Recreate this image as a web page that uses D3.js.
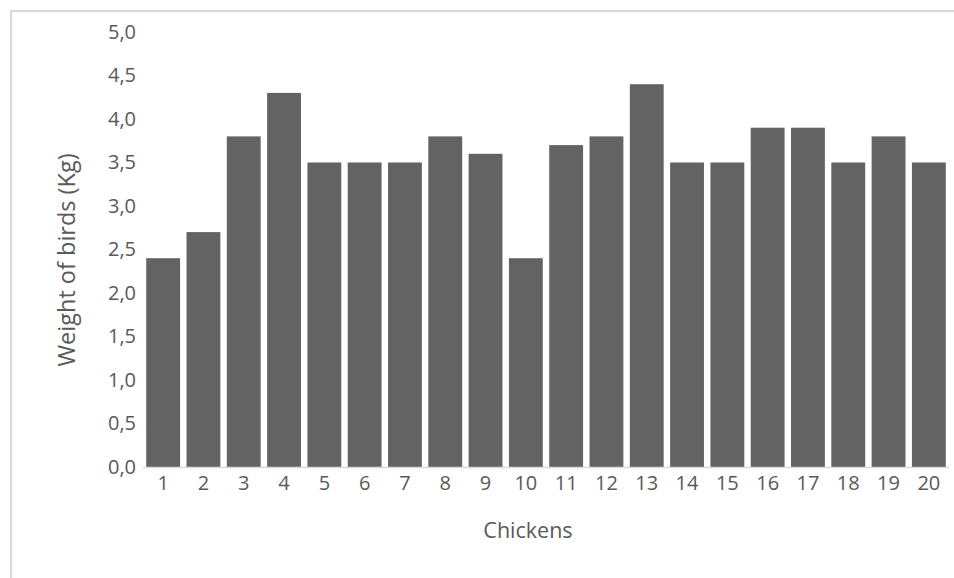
<!DOCTYPE html>
<html>
<head>
<meta charset="utf-8">
<script src="https://cdn.jsdelivr.net/npm/d3@7"></script>
<style>
  html, body { margin: 0; padding: 0; background: #fff; }
  svg { display: block; }
  text { font-family: "Open Sans", "Liberation Sans", sans-serif; fill: #595959; }
</style>
</head>
<body>
<svg id="chart" width="954" height="578"></svg>
<script>
// Bird weights per chicken
const chickens = ["1","2","3","4","5","6","7","8","9","10","11","12","13","14","15","16","17","18","19","20"];
const weights = [2.4, 2.7, 3.8, 4.3, 3.5, 3.5, 3.5, 3.8, 3.6, 2.4, 3.7, 3.8, 4.4, 3.5, 3.5, 3.9, 3.9, 3.5, 3.8, 3.5];
const yTicks = [0, 0.5, 1, 1.5, 2, 2.5, 3, 3.5, 4, 4.5, 5];

const svg = d3.select("#chart");

// chart frame
svg.append("rect")
  .attr("x", 11).attr("y", 11)
  .attr("width", 960).attr("height", 600)
  .attr("fill", "none")
  .attr("stroke", "#d9d9d9")
  .attr("stroke-width", 2);

const plot = { left: 143, right: 949, top: 32, bottom: 467 };

const x = d3.scaleBand()
  .domain(chickens)
  .range([plot.left, plot.right])
  .paddingInner(0.16)
  .paddingOuter(0.08);

const y = d3.scaleLinear()
  .domain([0, 5])
  .range([plot.bottom, plot.top]);

// bars
svg.append("g")
  .selectAll("rect")
  .data(weights)
  .join("rect")
  .attr("x", (d, i) => x(chickens[i]))
  .attr("y", d => y(d))
  .attr("width", x.bandwidth())
  .attr("height", d => y(0) - y(d))
  .attr("fill", "#636363");

// baseline
svg.append("line")
  .attr("x1", plot.left).attr("x2", plot.right)
  .attr("y1", y(0) + 0.5).attr("y2", y(0) + 0.5)
  .attr("stroke", "#d9d9d9")
  .attr("stroke-width", 1.5);

const fmt = d => d3.format(".1f")(d).replace(".", ",");

// y axis labels
const yAxis = svg.append("g")
  .attr("transform", `translate(${plot.left - 7},0)`)
  .call(d3.axisLeft(y).tickValues(yTicks).tickFormat(fmt).tickSize(0).tickPadding(0));
yAxis.select(".domain").remove();
yAxis.selectAll("text")
  .style("font-size", "20px")
  .attr("fill", "#595959");

// x axis labels
const xAxis = svg.append("g")
  .attr("transform", `translate(0,${plot.bottom})`)
  .call(d3.axisBottom(x).tickSize(0).tickPadding(9));
xAxis.select(".domain").remove();
xAxis.selectAll("text")
  .style("font-size", "20px")
  .attr("fill", "#595959");

// axis titles
svg.append("text")
  .attr("x", 528)
  .attr("y", 538)
  .attr("text-anchor", "middle")
  .style("font-size", "21.5px")
  .text("Chickens");

svg.append("text")
  .attr("transform", `translate(75,260) rotate(-90)`)
  .attr("text-anchor", "middle")
  .style("font-size", "23.5px")
  .text("Weight of birds (Kg)");
</script>
</body>
</html>
